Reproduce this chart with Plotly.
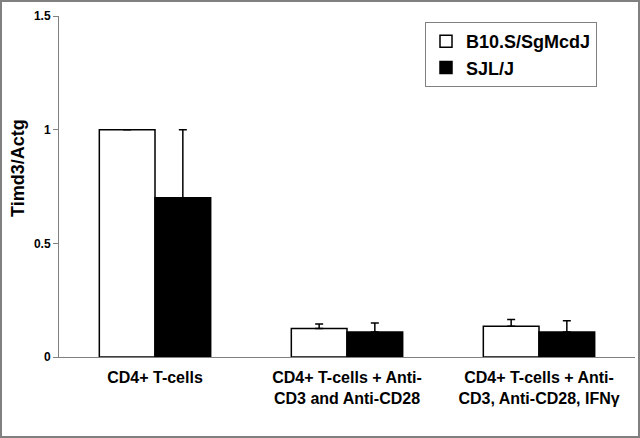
import plotly.graph_objects as go

categories = ["CD4+ T-cells",
              "CD4+ T-cells + Anti-<br>CD3 and Anti-CD28",
              "CD4+ T-cells + Anti-<br>CD3, Anti-CD28, IFNγ"]
b10_values = [1.0, 0.125, 0.135]
b10_errors = [0.0, 0.02, 0.03]
sjl_values = [0.70, 0.11, 0.11]
sjl_errors = [0.30, 0.04, 0.05]
series_names = ["B10.S/SgMcdJ", "SJL/J"]
y_ticks = [0, 0.5, 1, 1.5]
y_ticklabels = ["0", "0.5", "1", "1.5"]
y_title = "Timd3/Actg"

FONT = "Arial, Liberation Sans, sans-serif"

fig = go.Figure()
fig.add_trace(go.Bar(
    name=series_names[0], x=categories, y=b10_values,
    marker=dict(color="white", line=dict(color="black", width=1.5)),
    error_y=dict(type="data", array=b10_errors, symmetric=False,
                 arrayminus=[0, 0, 0], color="black", thickness=1.5, width=4),
))
fig.add_trace(go.Bar(
    name=series_names[1], x=categories, y=sjl_values,
    marker=dict(color="black", line=dict(color="black", width=1.5)),
    error_y=dict(type="data", array=sjl_errors, symmetric=False,
                 arrayminus=[0, 0, 0], color="black", thickness=1.5, width=4),
))

L, R, T, B = 59, 5, 16, 81
W, H = 640, 438
pw, ph = W - L - R, H - T - B

fig.update_layout(
    width=W, height=H,
    margin=dict(l=L, r=R, t=T, b=B, autoexpand=False),
    paper_bgcolor="white", plot_bgcolor="white",
    barmode="group", bargap=0.42, bargroupgap=0,
    font=dict(family=FONT, color="black"),
    showlegend=True,
    legend=dict(
        x=(597 - L) / pw, y=(H - B - 22) / ph, xanchor="right", yanchor="top",
        bordercolor="#808080", borderwidth=1, bgcolor="white",
        font=dict(family=FONT, size=18, color="black", weight="bold"),
        itemwidth=30,
    ),
    xaxis=dict(
        showline=True, linecolor="#808080", linewidth=1,
        ticks="", showgrid=False, zeroline=False,
        tickfont=dict(family=FONT, size=16, color="black", weight="bold"),
        ticklabelstandoff=6,
        automargin=False,
    ),
    yaxis=dict(
        range=[0, 1.5], tickvals=y_ticks, ticktext=y_ticklabels,
        showline=True, linecolor="#808080", linewidth=1,
        ticks="outside", ticklen=5, tickcolor="#808080",
        showgrid=False, zeroline=False,
        tickfont=dict(family=FONT, size=12, color="black", weight="bold"),
        automargin=False,
    ),
    annotations=[dict(
        text=y_title, textangle=-90, showarrow=False,
        xref="paper", yref="paper",
        x=(18 - L) / pw, y=(H - B - 168) / ph,
        xanchor="center", yanchor="middle",
        font=dict(family=FONT, size=18, color="black", weight="bold"),
    )],
    shapes=[dict(
        type="rect", xref="paper", yref="paper",
        x0=(1 - L) / pw, x1=(639 - L) / pw,
        y0=(H - B - 437) / ph, y1=(H - B - 1) / ph,
        line=dict(color="#808080", width=2), layer="below",
    )],
)

fig.write_html("out.html", config={"displayModeBar": False},
               post_script="document.body.style.margin='0';document.body.style.padding='0';")
